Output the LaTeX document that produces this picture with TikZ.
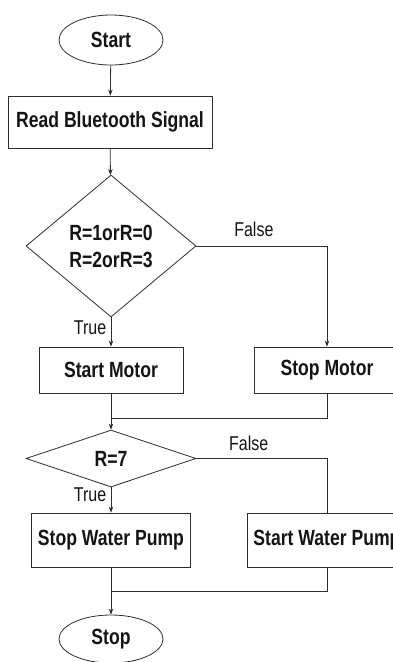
\documentclass[tikz,border=0pt]{standalone}
\usepackage{fontspec}
\setmainfont{Liberation Sans}[FakeStretch=0.8]
\usepackage{tikz}
\usetikzlibrary{shapes.geometric, arrows.meta, positioning}
\definecolor{FlowLine}{RGB}{45, 45, 45}
\definecolor{FlowText}{RGB}{20, 20, 20}

\begin{document}
\begin{tikzpicture}[x=1pt, y=-1pt,
    every node/.style={text=FlowText},
    terminal/.style={draw=FlowLine, line width=0.8pt, ellipse, minimum width=104pt, minimum height=50pt, inner sep=0pt, font=\fontsize{22}{24}\selectfont\bfseries},
    process/.style={draw=FlowLine, line width=0.8pt, rectangle, inner sep=0pt, font=\fontsize{22}{24}\selectfont\bfseries},
    decision/.style={draw=FlowLine, line width=0.8pt, diamond, inner sep=0pt, align=center, font=\fontsize{22}{27}\selectfont\bfseries},
    flow/.style={FlowLine, line width=0.8pt},
    arr/.style={flow, -{Stealth[length=6pt, width=4.5pt]}},
    tag/.style={font=\fontsize{20}{22}\selectfont}]
    \useasboundingbox (0,0) rectangle (393,662);
    \clip (0,0) rectangle (393,662);
    \node[terminal] (start) at (111,40) {Start};
    \node[process, minimum width=204pt, minimum height=52pt] (read) at (110,122) {Read Bluetooth Signal};
    \node[decision, minimum width=170pt, minimum height=142pt] (dec1) at (111,246) {R=1orR=0\\R=2orR=3};
    \node[process, minimum width=144pt, minimum height=46pt] (startM) at (111,370) {Start Motor};
    \node[process, minimum width=146pt, minimum height=46pt] (stopM) at (327,370) {Stop Motor};
    \coordinate (join1) at (111,418);
    \node[decision, minimum width=170pt, minimum height=57pt] (dec2) at (111,458.5) {R=7};
    \node[process, minimum width=159pt, minimum height=54pt] (stopP) at (111,540) {Stop Water Pump};
    \node[process, minimum width=160pt, minimum height=54pt] (startP) at (327,540) {Start Water Pump};
    \coordinate (join2) at (111,591);
    \node[terminal, minimum height=48pt] (stop) at (111,639) {Stop};
    \draw[arr] (start) -- (read);
    \draw[arr] (read) -- (dec1);
    \draw[arr] (dec1.east) -| node[tag, pos=0.22, above=6pt] {False} (stopM);
    \draw[arr] (dec1) -- node[tag, pos=0.35, left=1pt] {True} (startM);
    \draw[flow] (startM) -- (join1);
    \draw[flow] (stopM) |- (join1);
    \draw[arr] (join1) -- (dec2);
    \draw[flow] (dec2.east) -| node[tag, pos=0.2, above=4pt] {False} (startP);
    \draw[arr] (dec2) -- node[tag, pos=0.3, left=1pt] {True} (stopP);
    \draw[flow] (stopP) -- (join2);
    \draw[flow] (startP) |- (join2);
    \draw[arr] (join2) -- (stop);
\end{tikzpicture}
\end{document}
